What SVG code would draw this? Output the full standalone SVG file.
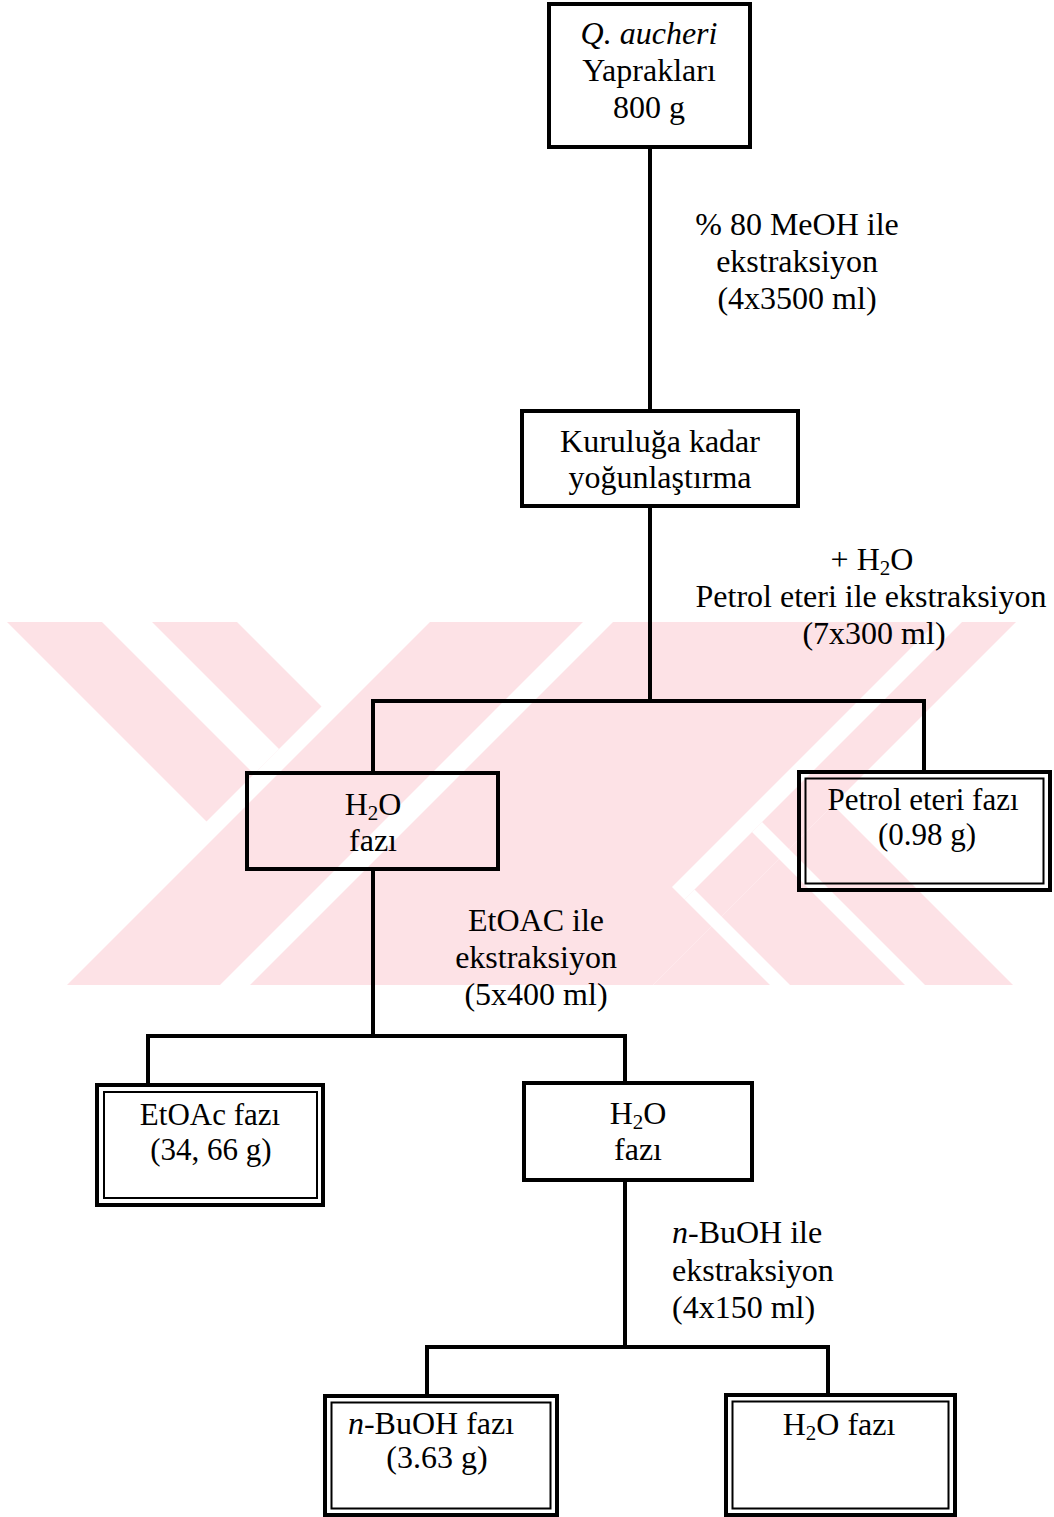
<svg xmlns="http://www.w3.org/2000/svg" width="1054" height="1517" viewBox="0 0 1054 1517">
  <style>
    text { font-family: "Liberation Serif", "Times New Roman", serif; font-size: 32px; fill: #000; }
    .mid { text-anchor: middle; }
    .tight { font-size: 31px; }
    .sub { font-size: 21px; }
    .box { fill: none; stroke: #000; stroke-width: 4; }
    .inner { fill: none; stroke: #000; stroke-width: 2; }
    .wire { fill: none; stroke: #000; stroke-width: 4; stroke-linecap: square; }
    .wm { fill: #fde2e6; }
    .wmcut { fill: #ffffff; }
  </style>
  <defs>
    <clipPath id="wmClip">
      <rect x="0" y="622" width="1016" height="363"/>
    </clipPath>
  </defs>

  <rect x="0" y="0" width="1054" height="1517" fill="#ffffff"/>

  <!-- background emblem: striped diagonal bands -->
  <g id="emblem" clip-path="url(#wmClip)">
    <polygon class="wm" points="57.5,442.5 321.5,706.5 206.5,821.5 -57.5,557.5"/>
    <polygon class="wmcut" points="15,485 279,749 254,774 -10,510"/>
    <polygon class="wm" points="751,301 1044,594 319,1319 26,1026"/>
    <polygon class="wm" points="833,805 1064,1036 550,1550 319,1319"/>
    <polygon class="wmcut" points="827.5,377.5 842.5,392.5 117.5,1117.5 102.5,1102.5"/>
    <polygon class="wmcut" points="1004.5,554.5 1017,567 684.5,899.5 672,887"/>
    <polygon class="wmcut" points="762,822 1020,1080 1010,1090 752,832"/>
    <polygon class="wmcut" points="694.5,889.5 952.5,1147.5 942.5,1157.5 684.5,899.5"/>
  </g>

  <!-- connectors -->
  <g id="connectors">
    <line class="wire" x1="650" y1="147" x2="650" y2="411"/>
    <line class="wire" x1="650" y1="506" x2="650" y2="701"/>
    <polyline class="wire" points="373,773 373,701 924,701 924,772"/>
    <line class="wire" x1="373" y1="869" x2="373" y2="1036"/>
    <polyline class="wire" points="148,1085 148,1036 625,1036 625,1083"/>
    <line class="wire" x1="625" y1="1180" x2="625" y2="1347"/>
    <polyline class="wire" points="427,1396 427,1347 828,1347 828,1395"/>
  </g>

  <!-- step labels -->
  <g id="label-meoh">
    <text class="mid" x="797" y="235">% 80 MeOH ile</text>
    <text class="mid" x="797" y="272">ekstraksiyon</text>
    <text class="mid" x="797" y="309">(4x3500 ml)</text>
  </g>
  <g id="label-petrol">
    <text class="mid" x="872" y="570">+ H<tspan class="sub" dy="5">2</tspan><tspan dy="-5">O</tspan></text>
    <text class="mid" x="871" y="607">Petrol eteri ile ekstraksiyon</text>
    <text class="mid" x="874" y="644">(7x300 ml)</text>
  </g>
  <g id="label-etoac">
    <text class="mid" x="536" y="931">EtOAC ile</text>
    <text class="mid" x="536" y="968">ekstraksiyon</text>
    <text class="mid" x="536" y="1005">(5x400 ml)</text>
  </g>
  <g id="label-buoh">
    <text x="672" y="1243"><tspan font-style="italic">n</tspan>-BuOH ile</text>
    <text x="672" y="1281">ekstraksiyon</text>
    <text x="672" y="1318">(4x150 ml)</text>
  </g>

  <!-- nodes -->
  <g id="node-leaves">
    <rect class="box" x="549" y="4" width="201" height="143"/>
    <text class="mid" x="649" y="44" font-style="italic">Q. aucheri</text>
    <text class="mid" x="649" y="81">Yaprakları</text>
    <text class="mid" x="649" y="118">800 g</text>
  </g>

  <g id="node-concentrate">
    <rect class="box" x="522" y="411" width="276" height="95"/>
    <text class="mid" x="660" y="452">Kuruluğa kadar</text>
    <text class="mid" x="660" y="488">yoğunlaştırma</text>
  </g>

  <g id="node-water-1">
    <rect class="box" x="247" y="773" width="251" height="96"/>
    <text class="mid" x="373" y="815">H<tspan class="sub" dy="5">2</tspan><tspan dy="-5">O</tspan></text>
    <text class="mid" x="373" y="851">fazı</text>
  </g>

  <g id="node-petrol">
    <rect class="box" x="799" y="772" width="251" height="118"/>
    <rect class="inner" x="805.5" y="778.5" width="238" height="105"/>
    <text class="mid tight" x="923" y="810">Petrol eteri fazı</text>
    <text class="mid tight" x="927" y="845">(0.98 g)</text>
  </g>

  <g id="node-etoac">
    <rect class="box" x="97" y="1085" width="226" height="120"/>
    <rect class="inner" x="104" y="1092" width="213" height="106"/>
    <text class="mid tight" x="210" y="1125">EtOAc fazı</text>
    <text class="mid tight" x="211" y="1160">(34, 66 g)</text>
  </g>

  <g id="node-water-2">
    <rect class="box" x="524" y="1083" width="228" height="97"/>
    <text class="mid" x="638" y="1124">H<tspan class="sub" dy="5">2</tspan><tspan dy="-5">O</tspan></text>
    <text class="mid" x="638" y="1160">fazı</text>
  </g>

  <g id="node-buoh">
    <rect class="box" x="325" y="1396" width="232" height="119"/>
    <rect class="inner" x="331.5" y="1402.5" width="219" height="106"/>
    <text class="mid" x="431" y="1434"><tspan font-style="italic">n</tspan>-BuOH fazı</text>
    <text class="mid" x="437" y="1468">(3.63 g)</text>
  </g>

  <g id="node-water-3">
    <rect class="box" x="726" y="1395" width="229" height="120"/>
    <rect class="inner" x="732.5" y="1401.5" width="216" height="107"/>
    <text class="mid" x="839" y="1435">H<tspan class="sub" dy="5">2</tspan><tspan dy="-5">O</tspan> fazı</text>
  </g>
</svg>
